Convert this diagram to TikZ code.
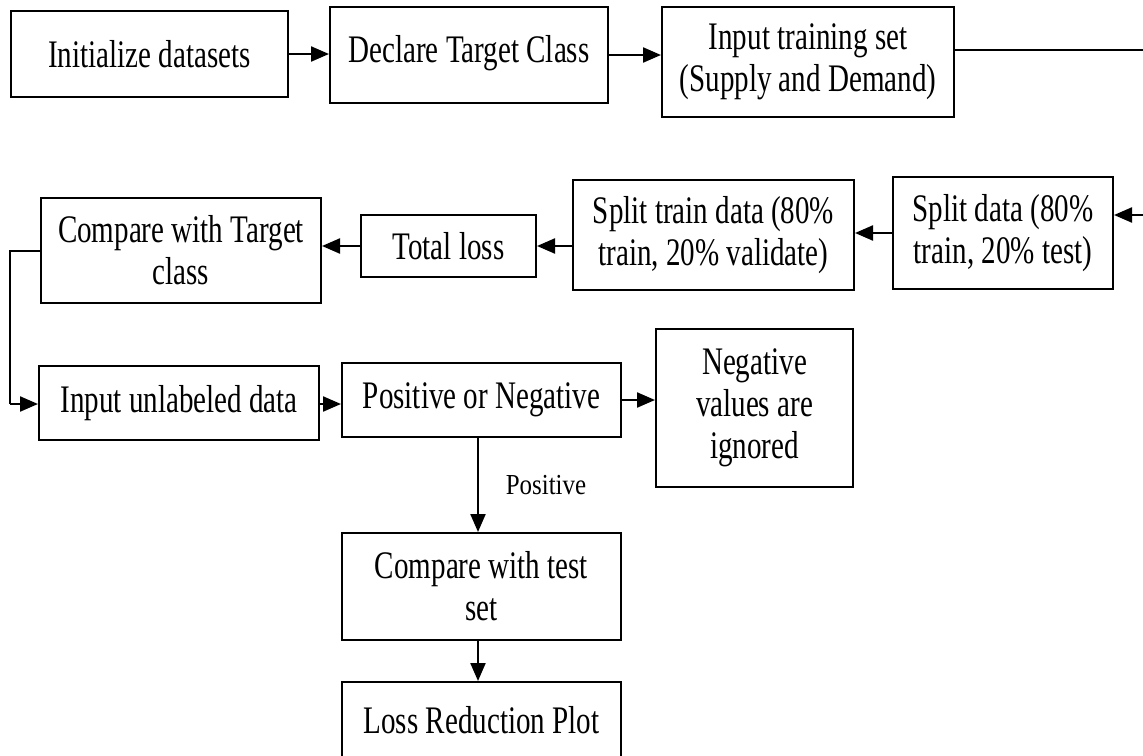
\documentclass[tikz,border=0pt]{standalone}
\usepackage{fontspec}
\setmainfont[FakeStretch=0.745]{Liberation Serif}
\newfontfamily\lblfont[FakeStretch=0.86]{Liberation Serif}
\usetikzlibrary{arrows.meta}
\begin{document}
\begin{tikzpicture}[x=1pt,y=-1pt,
  box/.style={draw, line width=2pt, align=center, inner sep=0pt,
              font=\fontsize{39}{42}\selectfont},
  ln/.style={line width=2pt},
  arr/.style={line width=2.2pt, -{Triangle[length=18pt 0,width=15pt 0]}},
  lbl/.style={font=\lblfont\fontsize{29}{32}\selectfont}]
\useasboundingbox (0,0) rectangle (1143,755);
\clip (0,0) rectangle (1143,755);

% first row
\node[box, minimum width=277pt, minimum height=86pt] (init) at (149.5,54) {Initialize datasets};
\node[box, minimum width=278pt, minimum height=96pt] (decl) at (469,55) {\raisebox{12pt}{Declare Target Class}};
\node[box, minimum width=292pt, minimum height=110pt] (input) at (808,62) {Input training set\\(Supply and Demand)};

% second row
\node[box, minimum width=220pt, minimum height=112pt] (split) at (1003,233) {Split data (80\%\\train, 20\% test)};
\node[box, minimum width=281pt, minimum height=110pt] (splittr) at (713.5,235) {Split train data (80\%\\train, 20\% validate)};
\node[box, minimum width=175pt, minimum height=62pt] (total) at (448.5,246) {Total loss};
\node[box, minimum width=280pt, minimum height=105pt] (cmptarget) at (181,250.5) {Compare with Target\\class};

% third row
\node[box, minimum width=280pt, minimum height=74pt] (unlab) at (179,403) {Input unlabeled data};
\node[box, minimum width=279pt, minimum height=74pt] (posneg) at (481.5,400) {Positive or Negative};
\node[box, minimum width=197pt, minimum height=158pt] (negign) at (754.5,408) {Negative\\values are\\ignored};

% lower column
\node[box, minimum width=279pt, minimum height=107pt] (cmptest) at (481.5,586.5) {Compare with test\\set};
\node[box, minimum width=279pt, minimum height=76pt] (lossplot) at (481.5,720) {Loss Reduction Plot};
\node[lbl] (poslbl) at (546,485) {Positive};

% routing points at the page edges
\coordinate (outR) at (1150,50);
\coordinate (inR) at (1150,215);
\coordinate (bendA) at (10,251);
\coordinate (bendB) at (10,404);
\coordinate (down) at (478,0);

% connectors
\draw[arr] (init.east) -- (init.east -| decl.west);
\draw[arr] (decl.east) -- (decl.east -| input.west);
\draw[ln] (input.east |- outR) -- (outR);
\draw[arr] (inR) -- (split.east |- inR);
\draw[arr] (split.west) -- (split.west -| splittr.east);
\draw[arr] (splittr.west |- total.east) -- (total.east);
\draw[arr] (total.west) -- (total.west -| cmptarget.east);
\draw[ln] (cmptarget.west |- bendA) -- (bendA) -- (bendB);
\draw[arr] (bendB) -- (bendB -| unlab.west);
\draw[arr] (unlab.east |- bendB) -- (bendB -| posneg.west);
\draw[arr] (posneg.east) -- (posneg.east -| negign.west);
\draw[arr] (posneg.south -| down) -- (cmptest.north -| down);
\draw[arr] (cmptest.south -| down) -- (lossplot.north -| down);
\end{tikzpicture}
\end{document}
